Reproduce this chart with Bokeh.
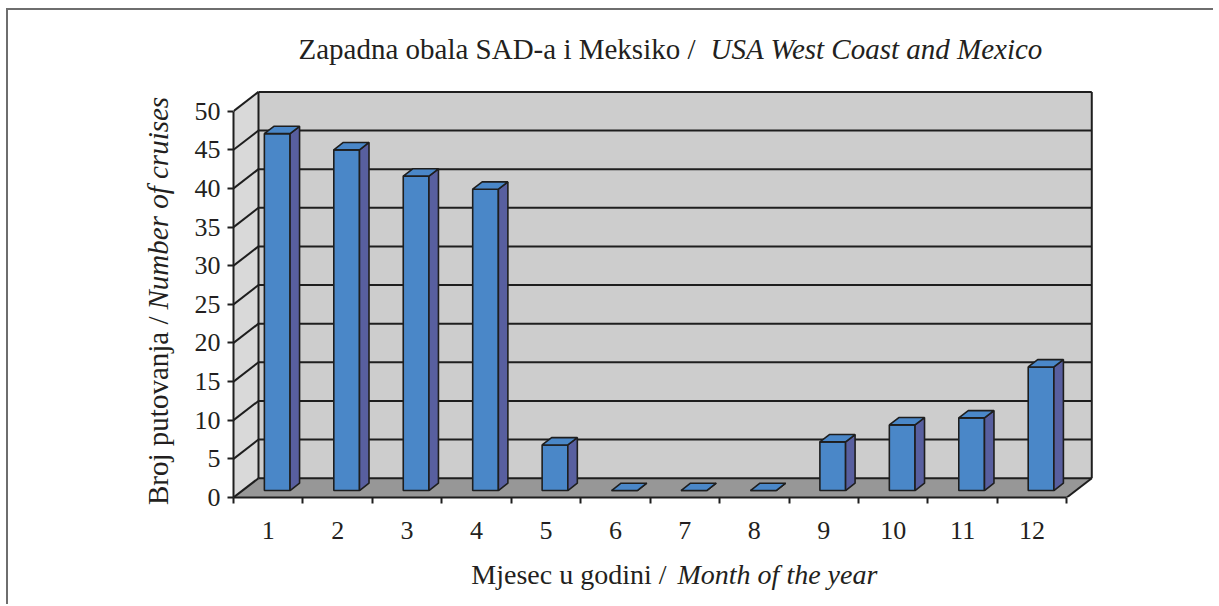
import math
from bokeh.plotting import figure
from bokeh.models import Range1d, FixedTicker
from bokeh.layouts import column, row
from bokeh.core.properties import value
from bokeh.embed import file_html
from bokeh.resources import INLINE

# ---------------- data ----------------
months = ["1", "2", "3", "4", "5", "6", "7", "8", "9", "10", "11", "12"]
cruises = [46.2, 44.1, 40.7, 39.0, 5.9, 0, 0, 0, 6.3, 8.5, 9.4, 16.0]
y_ticks = [0, 5, 10, 15, 20, 25, 30, 35, 40, 45, 50]
title_roman = "Zapadna obala SAD-a i Meksiko /"
title_italic = "USA West Coast and Mexico"
ylabel_roman = "Broj putovanja /"
ylabel_italic = "Number of cruises"
xlabel_roman = "Mjesec u godini /"
xlabel_italic = "Month of the year"

# ---------------- page geometry (page px) ----------------
ORG_X, ORG_Y = 8, 10          # content origin (after CSS margin + border)
TOTAL_W = 1205
L_W = 180                     # y-title strip width
R_W = TOTAL_W - L_W           # width of title / chart / x-title column
T_H, P_H, B_H = 70, 480, 44   # title strip, main chart, x-title strip
AX_X, AX_Y = 233, 497         # page position of the front axes origin
FRAME_TOP = 90
SX, SY = 69.44, 7.726         # px per category / px per value unit

FONT = "Liberation Serif"
INK = "#1e1e1e"
TXT = "#231f20"

# ---------------- 3D geometry (data units) ----------------
N = len(months)
YMAX = y_ticks[-1]
DX, DY = 0.36, 2.5          # depth of the 3D box
F0, F1 = 0.36, 0.74         # bar depth position (fractions of depth)
HW = 0.185                  # bar half width

COL_X = ORG_X + L_W           # page x where the right column starts
ML = AX_X - COL_X             # chart frame starts at the y axis
FRAME_W = 861
MR = R_W - ML - FRAME_W
MT = FRAME_TOP - (ORG_Y + T_H)
FRAME_H = AX_Y - FRAME_TOP
MB = P_H - MT - FRAME_H


def txt(f, x, y, text, align, italic=False, size="29px", angle=0.0):
    f.text(x=[x], y=[y], text=[text], angle=angle, text_align=align,
           text_baseline="middle", text_font=value(FONT), text_font_size=size,
           text_color=TXT, text_font_style="italic" if italic else "normal")


def blank(w, h, x0, y0, ml=0, mr=0):
    # page-pixel coordinates inside the frame
    f = figure(width=w, height=h, x_range=Range1d(x0 + ml, x0 + w - mr),
               y_range=Range1d(y0 + h, y0), output_backend="svg", toolbar_location=None,
               x_axis_location=None, y_axis_location=None,
               min_border_left=ml, min_border_right=mr, min_border_top=0, min_border_bottom=0)
    f.outline_line_color = None
    f.grid.visible = False
    f.background_fill_color = "white"
    f.border_fill_color = "white"
    return f


# ---------------- y-title strip (full height) ----------------
L = blank(L_W, T_H + P_H + B_H, ORG_X, ORG_Y)
txt(L, 157, 316, ylabel_roman, "right", angle=math.pi / 2)
txt(L, 157, 309, ylabel_italic, "left", italic=True, angle=math.pi / 2)

# ---------------- title strip ----------------
T = blank(R_W, T_H, COL_X, ORG_Y, ML, MR)
txt(T, 695, 48, title_roman, "right")
txt(T, 710, 48, title_italic, "left", italic=True)

# ---------------- x-title strip ----------------
B = blank(R_W, B_H, COL_X, ORG_Y + T_H + P_H, ML, MR)
txt(B, 666, 574, xlabel_roman, "right", size="28px")
txt(B, 677, 574, xlabel_italic, "left", italic=True, size="28px")

# ---------------- main chart ----------------
p = figure(width=R_W, height=P_H,
           x_range=Range1d(0, FRAME_W / SX), y_range=Range1d(0, FRAME_H / SY),
           output_backend="svg", toolbar_location=None,
           min_border_left=ML, min_border_right=MR, min_border_top=MT, min_border_bottom=MB)
p.outline_line_color = None
p.grid.visible = False
p.background_fill_color = "white"
p.border_fill_color = "white"

# walls and floor
p.patch([0, DX, DX, 0], [0, DY, YMAX + DY, YMAX], fill_color="#d9d9d9", line_color=None)
p.patch([DX, N + DX, N + DX, DX], [DY, DY, YMAX + DY, YMAX + DY], fill_color="#cdcdcd", line_color=None)
p.patch([0, N, N + DX, DX], [0, 0, DY, DY], fill_color="#979797", line_color=None)

# gridlines on back wall and side wall, box edges
p.segment(x0=[DX] * len(y_ticks), y0=[v + DY for v in y_ticks],
          x1=[N + DX] * len(y_ticks), y1=[v + DY for v in y_ticks], line_color=INK, line_width=2)
p.segment(x0=[0] * len(y_ticks), y0=y_ticks, x1=[DX] * len(y_ticks),
          y1=[v + DY for v in y_ticks], line_color=INK, line_width=2)
p.segment(x0=[DX, N + DX, N], y0=[DY, DY, 0], x1=[DX, N + DX, N + DX],
          y1=[YMAX + DY, YMAX + DY, DY], line_color=INK, line_width=2)

# 3D bars
fx, fy, bx, by = DX * F0, DY * F0, DX * F1, DY * F1
front_xs, front_ys, side_xs, side_ys, top_xs, top_ys = [], [], [], [], [], []
for i, v in enumerate(cruises):
    c = i + 0.5
    front_xs.append([c - HW + fx, c + HW + fx, c + HW + fx, c - HW + fx])
    front_ys.append([fy, fy, v + fy, v + fy])
    side_xs.append([c + HW + fx, c + HW + bx, c + HW + bx, c + HW + fx])
    side_ys.append([fy, by, v + by, v + fy])
    top_xs.append([c - HW + fx, c + HW + fx, c + HW + bx, c - HW + bx])
    top_ys.append([v + fy, v + fy, v + by, v + by])
p.patches(front_xs, front_ys, fill_color="#4a87c8", line_color=INK, line_width=1.6)
p.patches(side_xs, side_ys, fill_color="#585f9f", line_color=INK, line_width=1.6)
p.patches(top_xs, top_ys, fill_color="#4a87c8", line_color=INK, line_width=1.6)

# axes (front corner of the 3D box = frame corner)
xa = p.xaxis[0]
xa.ticker = FixedTicker(ticks=[i + 0.5 for i in range(N)], minor_ticks=list(range(N + 1)))
xa.major_label_overrides = {i + 0.5: m for i, m in enumerate(months)}
xa.bounds = (0, N)
xa.major_tick_out = 0
xa.major_tick_in = 0
xa.minor_tick_out = 6
xa.minor_tick_in = 0
xa.minor_tick_line_color = INK
xa.minor_tick_line_width = 2
xa.axis_line_color = INK
xa.axis_line_width = 2
xa.major_label_standoff = 18
xa.major_label_text_font = FONT
xa.major_label_text_font_size = "26px"
xa.major_label_text_color = TXT

ya = p.yaxis[0]
ya.ticker = FixedTicker(ticks=y_ticks, minor_ticks=[])
ya.bounds = (0, YMAX)
ya.major_tick_out = 6
ya.major_tick_in = 0
ya.major_tick_line_color = INK
ya.major_tick_line_width = 2
ya.axis_line_color = INK
ya.axis_line_width = 2
ya.major_label_standoff = 7
ya.major_label_text_font = FONT
ya.major_label_text_font_size = "26px"
ya.major_label_text_color = TXT

layout = row(L, column(T, p, B),
             styles={"margin-left": "6px", "margin-top": "8px",
                     "border-left": "2px solid #6e6e6e",
                     "border-top": "2px solid #6e6e6e"})
open("out.html", "w").write(file_html(layout, INLINE))
